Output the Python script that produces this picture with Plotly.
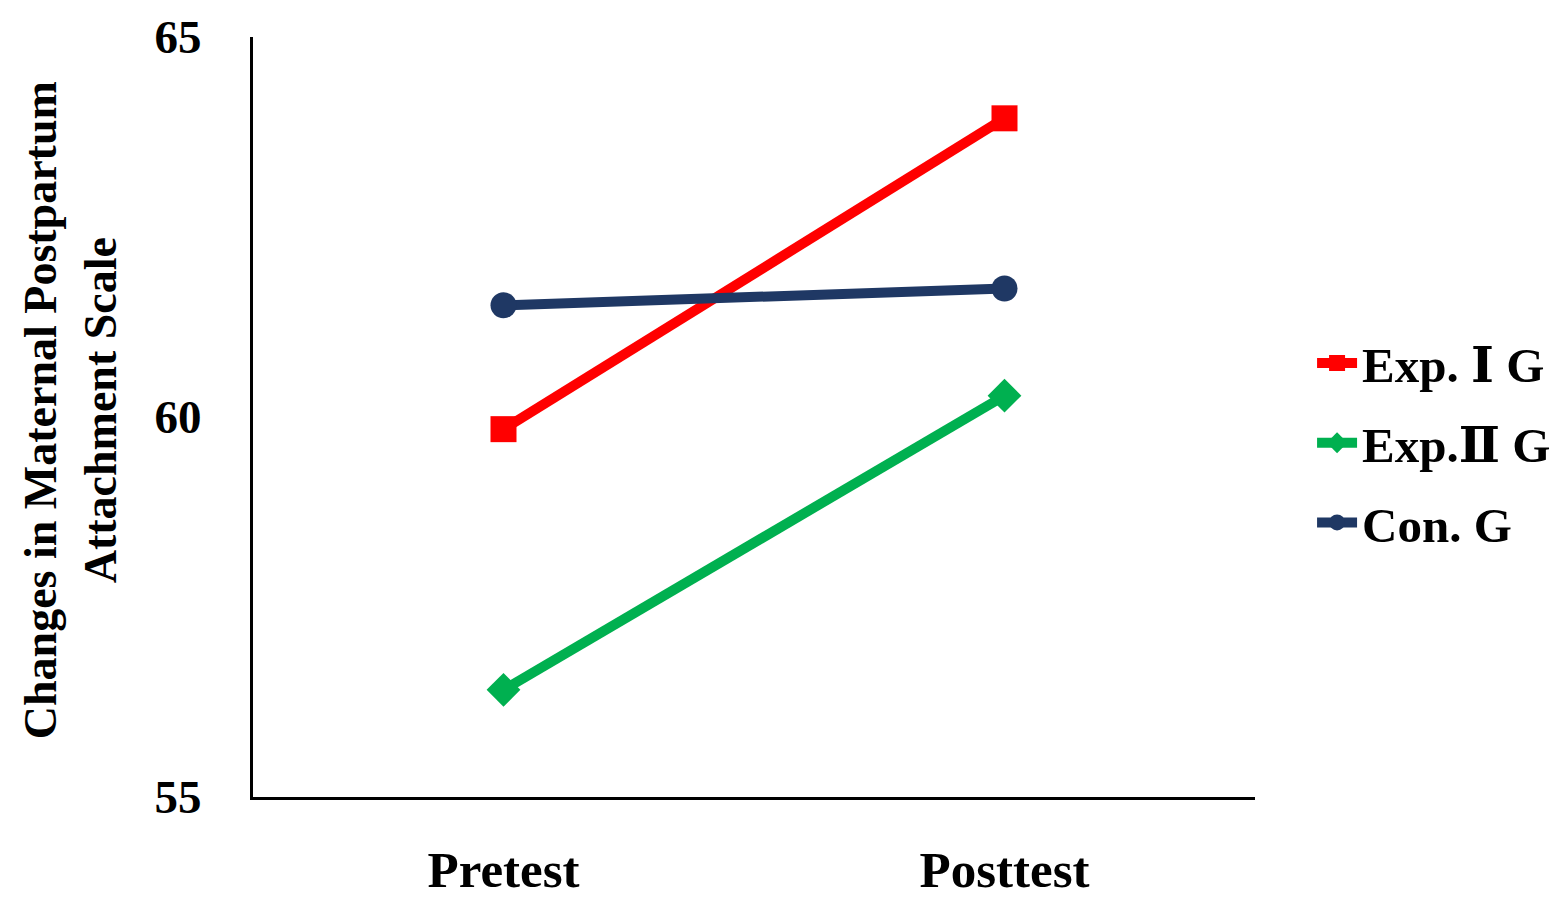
import plotly.graph_objects as go

# Data
phases = ["Pretest", "Posttest"]
exp1 = [59.84, 63.93]
exp2 = [56.41, 60.28]
con = [61.47, 61.69]
y_ticks = [55, 60, 65]

font_family = "Liberation Serif, DejaVu Serif"

fig = go.Figure()

series = [
    ("Exp. Ⅰ G", exp1, "#FF0000", "square"),
    ("Exp.Ⅱ G", exp2, "#00B050", "diamond"),
    ("Con. G", con, "#1F3864", "circle"),
]
for name, vals, color, symbol in series:
    fig.add_trace(go.Scatter(
        x=phases, y=vals, name=name, mode="lines+markers", legendgroup=name,
        line=dict(color=color, width=10),
        marker=dict(color=color, size=26, symbol=symbol),
    ))

fig.update_layout(
    width=1564,
    height=901,
    paper_bgcolor="white",
    plot_bgcolor="white",
    margin=dict(l=245, r=317, t=29, b=112),
    font=dict(family=font_family, size=46, color="black"),
    showlegend=True,
    legend=dict(
        xref="container", yref="container",
        x=0.8338, y=0.517, xanchor="left", yanchor="middle",
        font=dict(family=font_family, size=49, color="black", weight="bold"),
        traceorder="grouped", tracegroupgap=13, itemwidth=40,
    ),
    xaxis=dict(
        range=[-0.5, 1.5], showline=True, linecolor="black", linewidth=3,
        showgrid=False, zeroline=False, ticks="", ticklabelstandoff=26,
        automargin=False,
        tickfont=dict(family=font_family, size=51, color="black", weight="bold"),
    ),
    yaxis=dict(
        range=[55, 65], tickvals=y_ticks, showline=True, linecolor="black",
        linewidth=3, showgrid=False, zeroline=False, ticks="",
        ticklabelstandoff=39, automargin=False,
        tickfont=dict(family=font_family, size=47, color="black", weight="bold"),
    ),
    annotations=[dict(
        text="<b>Changes in Maternal Postpartum<br>Attachment Scale</b>",
        xref="paper", yref="paper", x=-0.1826, y=0.509,
        xanchor="center", yanchor="middle", textangle=-90, showarrow=False,
        font=dict(family=font_family, size=46, color="black"),
    )],
)

fig.write_html("out.html")
